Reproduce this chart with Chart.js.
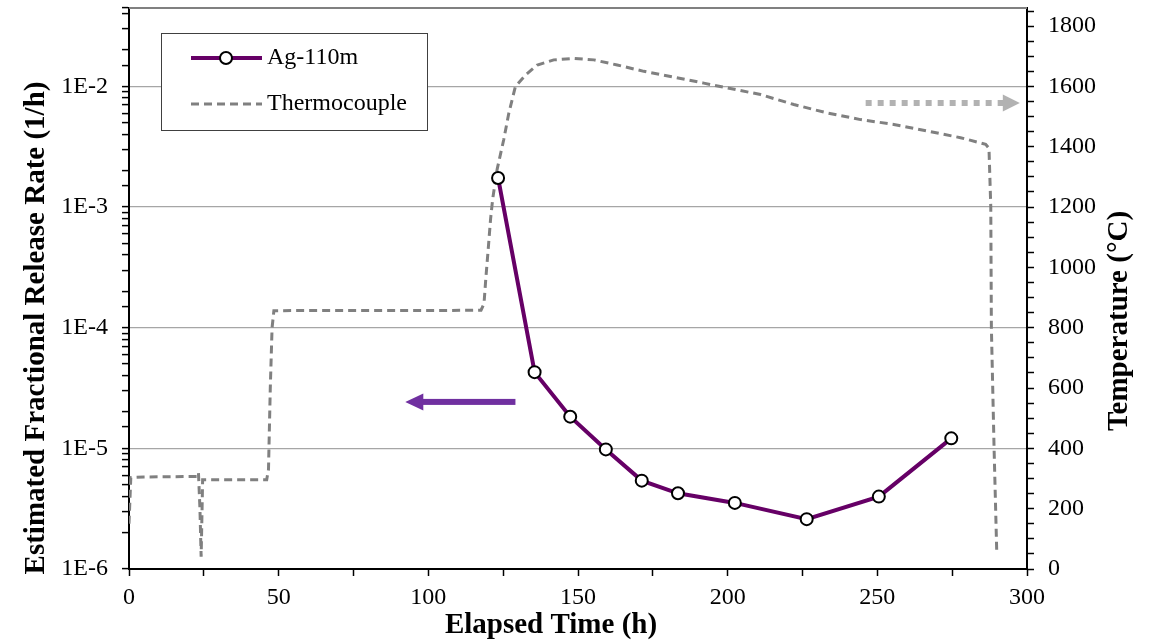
<!DOCTYPE html>
<html>
<head>
<meta charset="utf-8">
<title>Ag-110m release rate and thermocouple temperature</title>
<script src="https://cdn.jsdelivr.net/npm/chart.js@4"></script>
<style>
    html, body { margin: 0; padding: 0; background: #fff; }
    #wrap { width: 1158px; height: 643px; }
</style>
</head>
<body>
<div id="wrap"><canvas id="release-chart" width="1158" height="643"></canvas></div>
<script>
// Ag-110m fractional release rate (1/h)
var agTime = [123.3, 135.5, 147.4, 159.3, 171.3, 183.4, 202.4, 226.4, 250.5, 274.7];
var agRate = [1.74e-3, 4.28e-5, 1.83e-5, 9.8e-6, 5.4e-6, 4.24e-6, 3.53e-6, 2.59e-6, 3.98e-6, 1.21e-5];

// Thermocouple reading (°C)
var tcTime = [0, 0.6, 5, 15, 22.6, 23.2, 23.7, 24.1, 24.6, 30, 40, 46.0, 46.6, 47.2, 47.8, 48.4, 55, 80, 100, 117.6,
    118.6, 119.2, 120.0, 120.8, 121.5, 123.0, 125.2, 126.9, 129.1, 132.5, 136.4, 141.9, 148.6, 155.3, 163.1,
    172.0, 180.9, 192.0, 199.9, 211.0, 222.1, 233.3, 244.4, 255.5, 266.7, 277.8, 286.2, 287.3, 287.9, 288.1,
    289.0, 289.9];
var tcTemp = [150, 303, 305, 306, 307, 320, 200, 41, 296, 296, 296, 296, 330, 600, 800, 856, 857, 857, 857, 858,
    880, 963, 1060, 1161, 1227, 1326, 1424, 1512, 1600, 1638, 1671, 1688, 1693, 1688, 1671,
    1650, 1633, 1611, 1595, 1573, 1540, 1512, 1490, 1474, 1452, 1430, 1408, 1395, 1200, 800,
    400, 53];

// axis ranges and labels
var timeMin = 0, timeMax = 300;
var rateMin = 1e-6, rateMax = 0.0446;
var tempMin = 0, tempMax = 1860;
var seriesNames = ['Ag-110m', 'Thermocouple'];
var axisTitles = {
    x: 'Elapsed Time (h)',
    y: 'Estimated Fractional Release Rate (1/h)',
    y2: 'Temperature (°C)'
};

// direction arrows, in hours / °C
var rateArrow = { from: [129.1, 554], to: [92.3, 554] };
var tempArrow = { from: [246.1, 1545], to: [297.6, 1545] };

var FONT = "'Liberation Serif', 'Times New Roman', serif";
var PURPLE = '#660066';
var TC_GRAY = '#808080';

function toPoints(xs, ys) {
    var pts = [];
    for (var i = 0; i < xs.length; i++) {
        pts.push({ x: xs[i], y: ys[i] });
    }
    return pts;
}

function isDecade(v) {
    var e = Math.log10(v);
    return Math.abs(e - Math.round(e)) < 1e-6;
}

// keep the plot box fixed: no extra room for overhanging tick labels
function fixBox(size, dim) {
    return function(scale) {
        scale[dim] = size;
        scale.paddingTop = 0;
        scale.paddingBottom = 0;
        scale.paddingLeft = 0;
        scale.paddingRight = 0;
    };
}

var framePlugin = {
    id: 'frame',
    beforeDatasetsDraw: function(chart) {
        var ctx = chart.ctx, a = chart.chartArea;
        ctx.save();
        ctx.strokeStyle = '#808080';
        ctx.lineWidth = 2;
        ctx.beginPath();
        ctx.moveTo(a.left, a.top);
        ctx.lineTo(a.right, a.top);
        ctx.stroke();
        ctx.restore();
    },
    afterDatasetsDraw: function(chart) {
        var ctx = chart.ctx;
        var sx = chart.scales.x, sy = chart.scales.y2;

        // purple arrow pointing at the release-rate axis
        var x0 = sx.getPixelForValue(rateArrow.from[0]);
        var x1 = sx.getPixelForValue(rateArrow.to[0]);
        var yA = sy.getPixelForValue(rateArrow.from[1]);
        ctx.save();
        ctx.fillStyle = '#7030A0';
        ctx.fillRect(x1 + 16, yA - 3, x0 - x1 - 16, 6);
        ctx.beginPath();
        ctx.moveTo(x1, yA);
        ctx.lineTo(x1 + 18, yA - 8.5);
        ctx.lineTo(x1 + 18, yA + 8.5);
        ctx.closePath();
        ctx.fill();

        // dotted grey arrow pointing at the temperature axis
        var g0 = sx.getPixelForValue(tempArrow.from[0]);
        var g1 = sx.getPixelForValue(tempArrow.to[0]);
        var yB = sy.getPixelForValue(tempArrow.from[1]);
        ctx.fillStyle = '#B2B2B2';
        for (var px = g0; px < g1 - 20; px += 12) {
            ctx.fillRect(px, yB - 3, 6, 6);
        }
        ctx.beginPath();
        ctx.moveTo(g1, yB);
        ctx.lineTo(g1 - 17, yB - 8.5);
        ctx.lineTo(g1 - 17, yB + 8.5);
        ctx.closePath();
        ctx.fill();
        ctx.restore();
    },
    afterDraw: function(chart) {
        var ctx = chart.ctx;
        ctx.save();

        // legend box
        ctx.fillStyle = '#fff';
        ctx.fillRect(161, 33, 266, 97);
        ctx.strokeStyle = '#404040';
        ctx.lineWidth = 1;
        ctx.strokeRect(161.5, 33.5, 266, 97);

        ctx.strokeStyle = PURPLE;
        ctx.lineWidth = 4;
        ctx.beginPath();
        ctx.moveTo(191, 58);
        ctx.lineTo(262, 58);
        ctx.stroke();
        ctx.beginPath();
        ctx.arc(226, 58, 6, 0, Math.PI * 2);
        ctx.fillStyle = '#fff';
        ctx.fill();
        ctx.strokeStyle = '#000';
        ctx.lineWidth = 2;
        ctx.stroke();

        ctx.strokeStyle = TC_GRAY;
        ctx.lineWidth = 3;
        ctx.setLineDash([8, 5]);
        ctx.beginPath();
        ctx.moveTo(191, 104);
        ctx.lineTo(262, 104);
        ctx.stroke();
        ctx.setLineDash([]);

        ctx.fillStyle = '#000';
        ctx.font = '24px ' + FONT;
        ctx.textAlign = 'left';
        ctx.textBaseline = 'middle';
        ctx.fillText(seriesNames[0], 267, 58);
        ctx.fillText(seriesNames[1], 267, 104);

        // axis titles
        ctx.font = 'bold 29px ' + FONT;
        ctx.textAlign = 'center';
        ctx.fillText(axisTitles.x, 551, 626);

        ctx.translate(37, 328);
        ctx.rotate(-Math.PI / 2);
        ctx.fillText(axisTitles.y, 0, 0);
        ctx.restore();

        ctx.save();
        ctx.fillStyle = '#000';
        ctx.font = 'bold 29px ' + FONT;
        ctx.textAlign = 'center';
        ctx.textBaseline = 'middle';
        ctx.translate(1120, 321);
        ctx.rotate(-Math.PI / 2);
        ctx.fillText(axisTitles.y2, 0, 0);
        ctx.restore();
    }
};

var tickFont = { family: FONT, size: 24 };

var chart = new Chart(document.getElementById('release-chart'), {
    type: 'scatter',
    data: {
        datasets: [{
            label: seriesNames[0],
            data: toPoints(agTime, agRate),
            yAxisID: 'y',
            showLine: true,
            borderColor: PURPLE,
            borderWidth: 4,
            pointRadius: 6,
            pointBorderWidth: 2,
            pointBorderColor: '#000',
            pointBackgroundColor: '#fff',
            tension: 0,
            order: 0
        }, {
            label: seriesNames[1],
            data: toPoints(tcTime, tcTemp),
            yAxisID: 'y2',
            showLine: true,
            borderColor: TC_GRAY,
            borderWidth: 3,
            borderDash: [8, 5],
            pointRadius: 0,
            tension: 0,
            order: 1
        }]
    },
    options: {
        responsive: false,
        animation: false,
        layout: { padding: { top: 4, left: 0, right: 0, bottom: 0 } },
        plugins: {
            legend: { display: false },
            tooltip: { enabled: false }
        },
        scales: {
            x: {
                type: 'linear',
                min: timeMin,
                max: timeMax,
                afterFit: fixBox(74, 'height'),
                ticks: {
                    stepSize: 25,
                    autoSkip: false,
                    maxRotation: 0,
                    padding: 7,
                    color: '#000',
                    font: tickFont,
                    callback: function(v) { return v % 50 === 0 ? v : ''; }
                },
                grid: {
                    drawOnChartArea: false,
                    tickLength: 7,
                    tickColor: '#000',
                    tickWidth: 1.5
                },
                border: { color: '#000', width: 2 }
            },
            y: {
                type: 'logarithmic',
                position: 'left',
                min: rateMin,
                max: rateMax,
                afterFit: fixBox(129, 'width'),
                ticks: {
                    autoSkip: false,
                    padding: 14,
                    color: '#000',
                    font: tickFont,
                    callback: function(v) {
                        return isDecade(v) ? '1E' + Math.round(Math.log10(v)) : '';
                    }
                },
                grid: {
                    color: function(c) {
                        return c.tick && isDecade(c.tick.value) ? '#a6a6a6' : 'rgba(0,0,0,0)';
                    },
                    lineWidth: 1.2,
                    tickLength: 7,
                    tickColor: '#000',
                    tickWidth: 1.5
                },
                border: { color: '#000', width: 2 }
            },
            y2: {
                type: 'linear',
                position: 'right',
                min: tempMin,
                max: tempMax,
                afterFit: fixBox(131, 'width'),
                ticks: {
                    stepSize: 50,
                    includeBounds: false,
                    autoSkip: false,
                    padding: 14,
                    color: '#000',
                    font: tickFont,
                    callback: function(v) { return v % 200 === 0 ? v : ''; }
                },
                grid: {
                    drawOnChartArea: false,
                    tickLength: 7,
                    tickColor: '#000',
                    tickWidth: 1.5
                },
                border: { color: '#000', width: 2 }
            }
        }
    },
    plugins: [framePlugin]
});
</script>
</body>
</html>
